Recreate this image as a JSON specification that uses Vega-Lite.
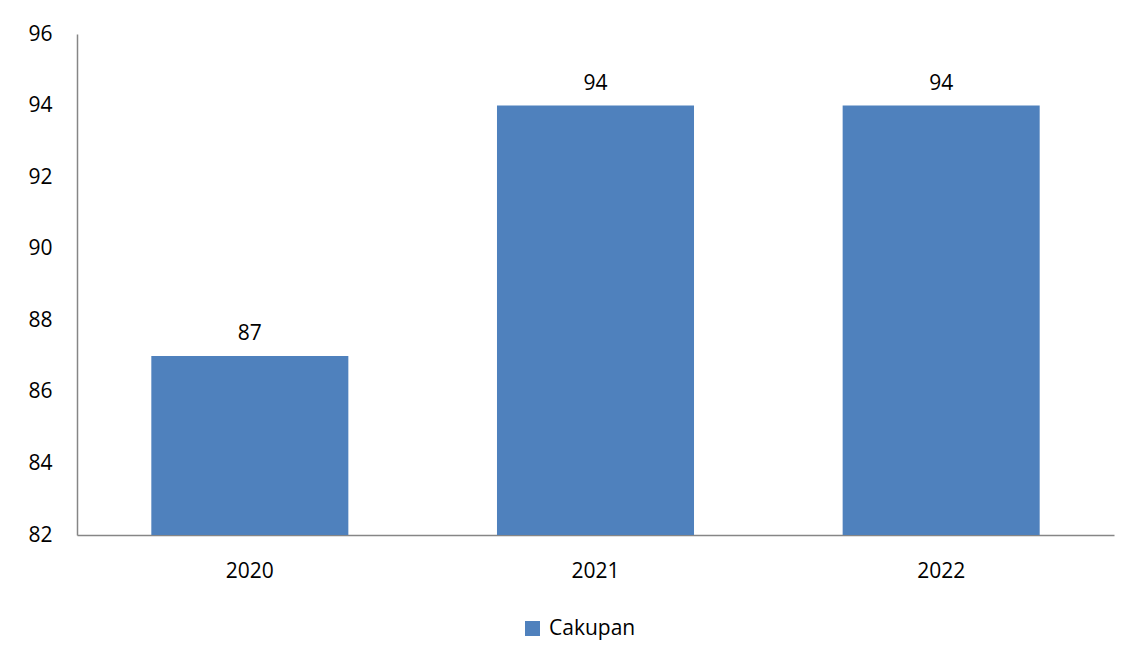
{
  "$schema": "https://vega.github.io/schema/vega-lite/v6.json",
  "autosize": "none",
  "width": 1037,
  "height": 501,
  "padding": {"left": 77, "top": 34, "right": 27, "bottom": 126},
  "background": "white",
  "config": {
    "view": {"stroke": null},
    "font": "Open Sans"
  },
  "data": {"values": [
    {"Tahun": "2020", "Cakupan": 87, "Seri": "Cakupan"},
    {"Tahun": "2021", "Cakupan": 94, "Seri": "Cakupan"},
    {"Tahun": "2022", "Cakupan": 94, "Seri": "Cakupan"}
  ]},
  "encoding": {
    "x": {"field": "Tahun", "type": "nominal", "title": null,
      "scale": {"paddingInner": 0.43, "paddingOuter": 0.215},
      "axis": {"labelAngle": 0, "ticks": false, "labelFontSize": 21, "labelColor": "#000000", "labelPadding": 25, "domainColor": "#868686", "domainWidth": 1.5, "grid": false}},
    "y": {"field": "Cakupan", "type": "quantitative", "title": null,
      "scale": {"domain": [82, 96], "zero": false, "nice": false},
      "axis": {"values": [82, 84, 86, 88, 90, 92, 94, 96], "ticks": false, "grid": false, "labelFontSize": 21, "labelColor": "#000000", "labelPadding": 25, "domainColor": "#868686", "domainWidth": 1.5}}
  },
  "layer": [
    {
      "mark": {"type": "bar", "clip": true},
      "encoding": {
        "y2": {"datum": 82},
        "color": {"field": "Seri", "type": "nominal", "scale": {"range": ["#4F81BD"]},
          "legend": {"title": null, "orient": "none", "legendX": 445, "legendY": 584, "symbolType": "square", "symbolSize": 225, "symbolOpacity": 1, "labelFontSize": 21, "labelColor": "#000000", "labelOffset": 6}}
      }
    },
    {
      "mark": {"type": "text", "fontSize": 21, "color": "#000000", "baseline": "alphabetic", "dy": -16},
      "encoding": {"text": {"field": "Cakupan", "type": "quantitative"}}
    }
  ]
}
